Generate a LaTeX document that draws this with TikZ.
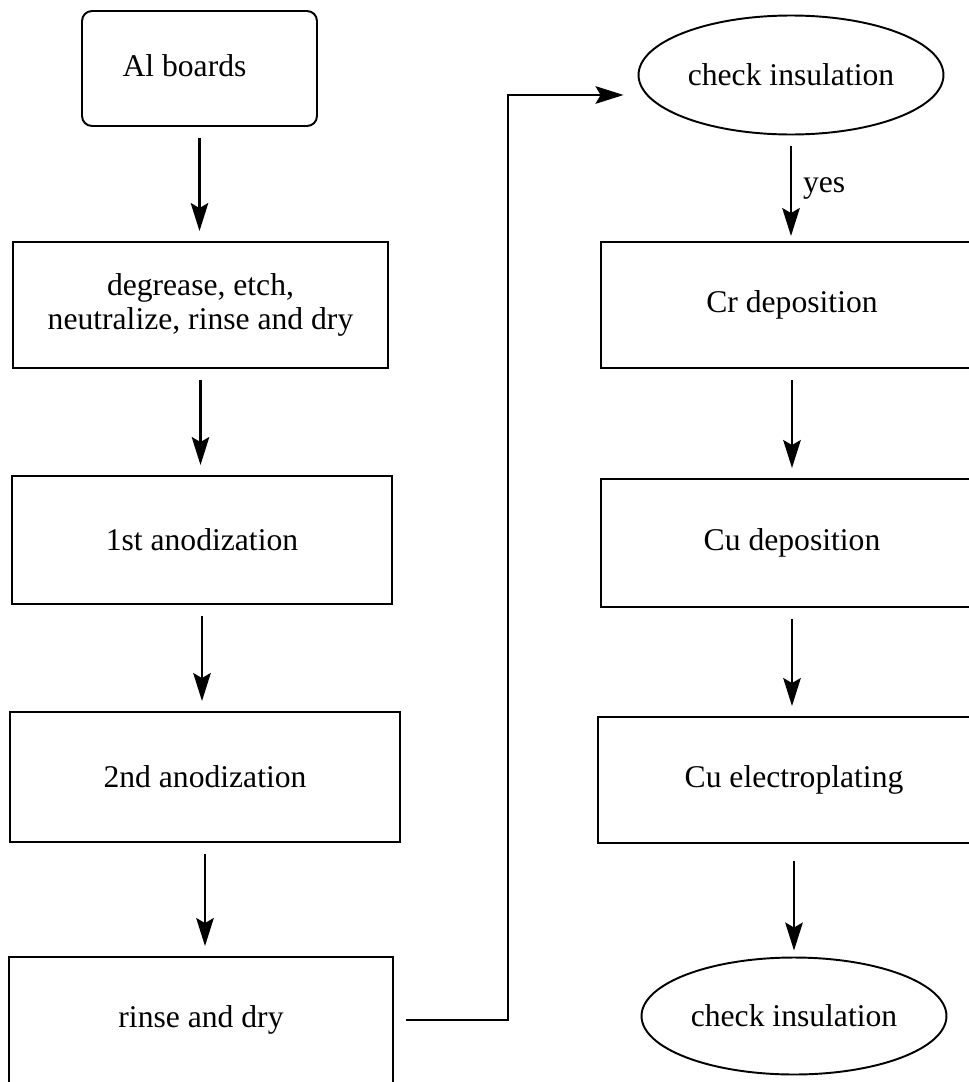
\documentclass[tikz,border=0pt]{standalone}
\usepackage{fontspec}
\setmainfont{Liberation Serif}
\usepackage{tikz}
\usetikzlibrary{shapes.geometric}
\usetikzlibrary{arrows.meta}

\begin{document}
\begin{tikzpicture}[
		x=0.02cm, y=-0.02cm,
		font=\fontsize{18}{19}\selectfont,
		stepbox/.style={draw, line width=1.1pt, align=center, inner sep=0pt, minimum width=7.6cm, minimum height=2.54cm},
		checknode/.style={draw, ellipse, line width=1.1pt, inner sep=0pt, minimum width=6.1cm, minimum height=2.38cm},
		flow/.style={line width=1.4pt, -{Stealth[length=5.6mm, width=3.5mm, inset=1mm]}, shorten <=0.22cm, shorten >=0.2cm}
	]
	\useasboundingbox (0,0) rectangle (969,1082);
	\clip (0,0) rectangle (969,1082);

	% left column
	\node[stepbox, rounded corners=0.2cm, minimum width=4.7cm, minimum height=2.3cm] (al) at (199.5,68.5) {\raisebox{0.1cm}{Al boards}\hspace*{0.6cm}};
	\node[stepbox, minimum width=7.5cm, minimum height=2.52cm] (clean) at (200.5,305) {degrease, etch,\\neutralize, rinse and dry};
	\node[stepbox, minimum height=2.56cm] (anod1) at (202,540) {1st anodization};
	\node[stepbox, minimum width=7.8cm, minimum height=2.6cm] (anod2) at (205,777) {2nd anodization};
	\node[stepbox, minimum width=7.7cm, minimum height=2.52cm] (rinse) at (201,1020) {rinse and dry};

	% right column
	\node[checknode] (check1) at (791,75) {check insulation};
	\node[stepbox, minimum width=7.64cm, minimum height=2.52cm] (cr) at (792,305) {Cr deposition};
	\node[stepbox, minimum width=7.64cm, minimum height=2.56cm] (cudep) at (792,543) {Cu deposition};
	\node[stepbox, minimum width=7.84cm, minimum height=2.52cm] (cuel) at (794,780) {Cu electroplating};
	\node[checknode, minimum height=2.34cm] (check2) at (794,1016) {check insulation};

	\coordinate (turn) at (508,95);

	\draw[flow] (al.south) -- (al.south |- clean.north);
	\draw[flow] (clean.south) -- (clean.south |- anod1.north);
	\draw[flow] (anod1.south) -- (anod1.south |- anod2.north);
	\draw[flow] (anod2.south) -- (anod2.south |- rinse.north);

	\draw[flow, shorten <=0.24cm, shorten >=0.28cm] (rinse.east) -| (turn) -- (turn -| check1.west);

	\draw[flow, shorten >=0.1cm] (check1.south) -- node[right, xshift=0.1cm] {yes} (check1.south |- cr.north);
	\draw[flow] (cr.south) -- (cr.south |- cudep.north);
	\draw[flow] (cudep.south) -- (cudep.south |- cuel.north);
	\draw[flow, shorten <=0.34cm, shorten >=0.12cm] (cuel.south) -- (cuel.south |- check2.north);
\end{tikzpicture}
\end{document}
